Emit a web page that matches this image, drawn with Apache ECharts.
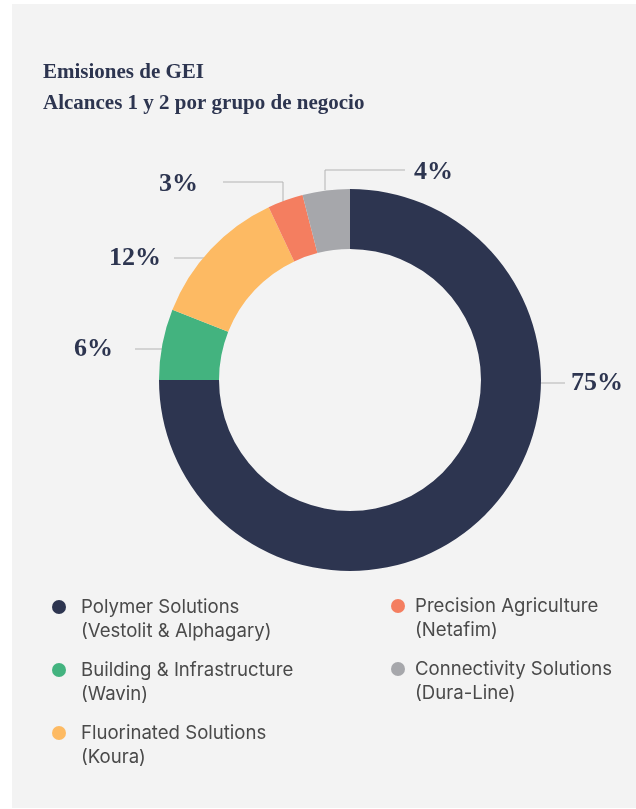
<!DOCTYPE html>
<html>
<head>
<meta charset="utf-8">
<script src="https://cdn.jsdelivr.net/npm/echarts@6/dist/echarts.min.js"></script>
<style>
  html, body { margin: 0; padding: 0; background: #ffffff; }
  #panel { position: absolute; left: 12px; top: 4px; width: 624px; height: 804px; background: #f3f3f3; }
  #chart { position: absolute; left: 0; top: 0; width: 636px; height: 809px; }
</style>
</head>
<body>
<div id="panel"></div>
<div id="chart"></div>
<script>
// ---- data ----
const categories = [
  'Polymer Solutions',
  'Building & Infrastructure',
  'Fluorinated Solutions',
  'Precision Agriculture',
  'Connectivity Solutions'
];
const subtitles = [
  '(Vestolit & Alphagary)',
  '(Wavin)',
  '(Koura)',
  '(Netafim)',
  '(Dura-Line)'
];
const values = [75, 6, 12, 3, 4];
const colors = ['#2d3550', '#43b37f', '#fdba63', '#f47e60', '#a6a7ab'];

// ---- label placement (leader lines and text anchors) ----
const leaderLines = [
  [[511, 383], [565, 383]],
  [[189, 349], [135, 349]],
  [[228, 258], [174, 258]],
  [[283, 217], [283, 182], [223, 182]],
  [[325, 190], [325, 170], [405, 170]]
];
const labelAnchors = [
  { x: 571, y: 383, align: 'left' },
  { x: 113, y: 349, align: 'right' },
  { x: 161, y: 258, align: 'right' },
  { x: 198, y: 184, align: 'right' },
  { x: 414, y: 172, align: 'left' }
];

const subOf = {};
categories.forEach((c, i) => { subOf[c] = subtitles[i]; });

const chart = echarts.init(document.getElementById('chart'), null, { renderer: 'canvas' });

const legendText = {
  fontFamily: 'Inter, "Noto Sans", sans-serif',
  fontSize: 18.6,
  lineHeight: 24,
  color: '#4a4a4a'
};

chart.setOption({
  backgroundColor: 'transparent',
  animation: false,
  title: {
    text: 'Emisiones de GEI\nAlcances 1 y 2 por grupo de negocio',
    left: 43,
    top: 57,
    padding: 0,
    textStyle: {
      fontFamily: '"Liberation Serif", "DejaVu Serif", serif',
      fontSize: 21,
      lineHeight: 31,
      fontWeight: 'bold',
      color: '#2d3550'
    }
  },
  legend: [
    {
      data: [categories[0], categories[1], categories[2]],
      orient: 'vertical',
      left: 52,
      top: 571,
      padding: 0,
      itemGap: -9,
      icon: 'circle',
      itemWidth: 14,
      itemHeight: 14,
      selectedMode: false,
      formatter: n => '\n' + n + '\n' + subOf[n],
      textStyle: Object.assign({ padding: [0, 0, 0, 10] }, legendText)
    },
    {
      data: [categories[3], categories[4]],
      orient: 'vertical',
      left: 391,
      top: 570,
      padding: 0,
      itemGap: -9,
      icon: 'circle',
      itemWidth: 14,
      itemHeight: 14,
      selectedMode: false,
      formatter: n => '\n' + n + '\n' + subOf[n],
      textStyle: Object.assign({ padding: [0, 0, 0, 5] }, legendText)
    }
  ],
  series: [{
    type: 'pie',
    center: [350, 380],
    radius: [131, 191],
    startAngle: 90,
    clockwise: true,
    silent: true,
    emphasis: { disabled: true },
    data: categories.map((c, i) => ({ name: c, value: values[i], itemStyle: { color: colors[i] } })),
    label: {
      show: true,
      formatter: '{d}%',
      fontFamily: '"Liberation Serif", "DejaVu Serif", serif',
      fontWeight: 'bold',
      fontSize: 26,
      color: '#2d3550'
    },
    labelLine: {
      show: true,
      lineStyle: { color: '#b3b3b3', width: 1 }
    },
    labelLayout: function (params) {
      const a = labelAnchors[params.dataIndex];
      return {
        x: a.x,
        y: a.y,
        align: a.align,
        verticalAlign: 'middle',
        labelLinePoints: leaderLines[params.dataIndex]
      };
    }
  }]
});
</script>
</body>
</html>
